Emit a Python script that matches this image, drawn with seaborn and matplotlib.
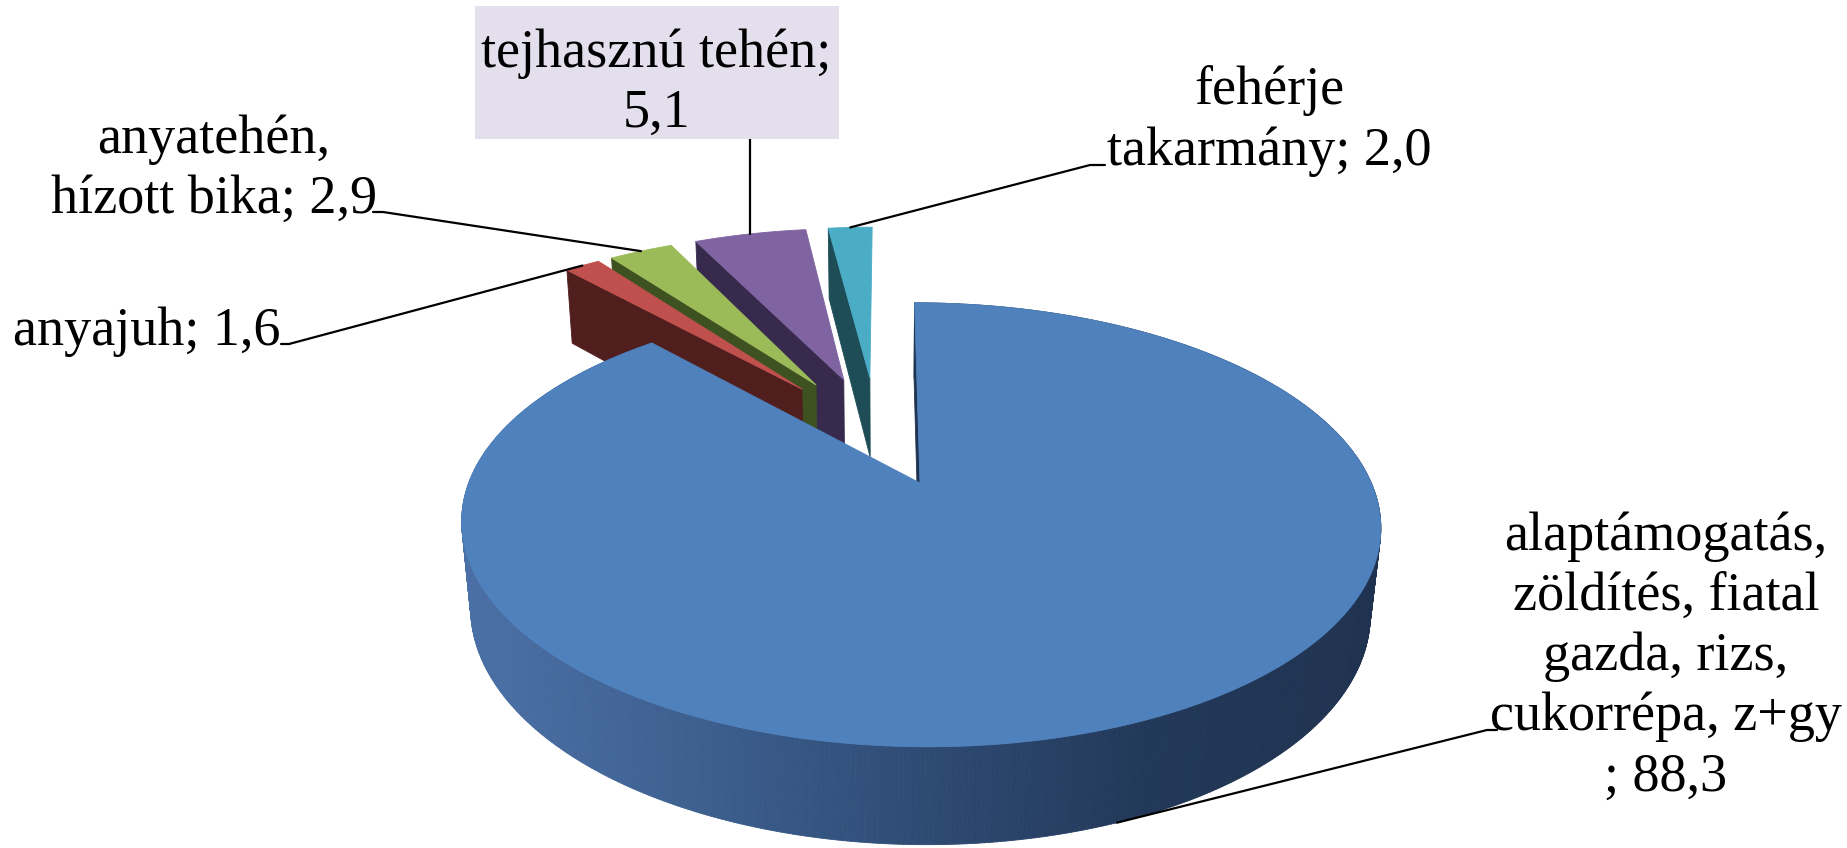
import numpy as np
import matplotlib
matplotlib.use("Agg")
import matplotlib.pyplot as plt
from matplotlib.patches import Polygon, Rectangle
import seaborn as sns


# data: slices clockwise from 12 o'clock
NAMES = [
    "alaptámogatás,\nzöldítés, fiatal\ngazda, rizs,\ncukorrépa, z+gy",
    "anyajuh",
    "anyatehén,\nhízott bika",
    "tejhasznú tehén",
    "fehérje\ntakarmány",
]
VALUES = [88.3, 1.6, 2.9, 5.1, 2.0]
SEPARATORS = ["\n; ", "; ", "; ", ";\n", "; "]

# style
TOP_COLORS = ["#4F81BD", "#C0504D", "#9BBB59", "#8064A2", "#4BACC6"]
SIDE_COLORS = ["#1F3350", "#511E1E", "#3E5120", "#372A4D", "#1E4D57"]
WALL_COLORS = ["#4B70A6", "#3D6090", "#2E4B74", "#223858", "#1F3250"]
EXPLODE = [0.27, 0.29, 0.29, 0.29, 0.29]

# camera for the 3d look (pixel units)
PHI = np.radians(26.93)
DIST = 4.96
FOCAL = 2137
DEPTH = 0.219
CAM_X = 0.02
TIP_PX = (920, 483)

# label placement (pixels) and where the leader line stops
LABEL_POS = [(1666, 657), (147, 332), (214, 170), (656, 84), (1269, 121)]
LINE_END = [(1487, 730, 1497), (289, 344, 281), (383, 212, 373), None, (1090, 165, 1105)]
BOX = (475, 6, 364, 133)


def project(x, y, z):
    dep = DIST + y * np.cos(PHI) - z * np.sin(PHI)
    sx = FOCAL * (x - CAM_X) / dep
    sy = FOCAL * (y * np.sin(PHI) + z * np.cos(PHI)) / dep
    return sx, sy, dep


def to_px(x, y, z):
    sx, sy, dep = project(np.asarray(x, float), np.asarray(y, float), np.asarray(z, float))
    return TIP_PX[0] + sx - ORIGIN[0], TIP_PX[1] - (sy - ORIGIN[1]), dep


values = np.array(VALUES)
cum = np.concatenate([[0], np.cumsum(values)]) / values.sum()
theta_hi = np.radians(90 - 360 * cum[:-1])
theta_lo = np.radians(90 - 360 * cum[1:])
theta_mid = (theta_hi + theta_lo) / 2
offsets = [(e * np.cos(m), e * np.sin(m)) for e, m in zip(EXPLODE, theta_mid)]

ORIGIN = project(offsets[0][0], offsets[0][1], 0.0)[:2]

sns.set_theme(style="white")
plt.rcParams["font.family"] = "serif"
plt.rcParams["font.serif"] = ["Liberation Serif", "DejaVu Serif"]

fig = plt.figure(figsize=(18.47, 8.48), dpi=100)
ax = fig.add_axes([0, 0, 1, 1])
ax.set_xlim(0, 1847)
ax.set_ylim(848, 0)
ax.axis("off")


def add_poly(xs, ys, color, z):
    ax.add_patch(Polygon(np.column_stack([xs, ys]), closed=True, fc=color, ec=color,
                         lw=0.6, zorder=z, joinstyle="round"))


def top_face(i, n=200):
    ox, oy = offsets[i]
    t = np.linspace(theta_lo[i], theta_hi[i], n)
    xs = np.concatenate([[ox], ox + np.cos(t)])
    ys = np.concatenate([[oy], oy + np.sin(t)])
    px, py, _ = to_px(xs, ys, np.zeros_like(xs))
    return px, py


def cut_face(i):
    ox, oy = offsets[i]
    t = theta_hi[i]
    xs = np.array([ox, ox + np.cos(t), ox + np.cos(t), ox])
    ys = np.array([oy, oy + np.sin(t), oy + np.sin(t), oy])
    zs = np.array([0, 0, -DEPTH, -DEPTH])
    px, py, _ = to_px(xs, ys, zs)
    return px, py


# small slices, back right to front left
for i in range(len(VALUES) - 1, 0, -1):
    add_poly(*cut_face(i), SIDE_COLORS[i], 2 + (5 - i) * 2)
    add_poly(*top_face(i), TOP_COLORS[i], 3 + (5 - i) * 2)

# big slice: curved wall with shading, cut face, top
wall_cmap = sns.blend_palette(WALL_COLORS, n_colors=256, as_cmap=True)
ox, oy = offsets[0]
t = np.linspace(theta_lo[0], theta_hi[0], 700)
tx, ty, tdep = to_px(ox + np.cos(t), oy + np.sin(t), np.zeros_like(t))
bx, by, bdep = to_px(ox + np.cos(t), oy + np.sin(t), np.full_like(t, -DEPTH))
left, right = tx.min(), tx.max()
quads = []
for k in range(len(t) - 1):
    d = (tdep[k] + tdep[k + 1]) / 2
    quads.append((d, k))
quads.sort(reverse=True)
for d, k in quads:
    frac = ((tx[k] + tx[k + 1]) / 2 - left) / (right - left)
    col = wall_cmap(np.clip(frac, 0, 1))
    add_poly([tx[k], tx[k + 1], bx[k + 1], bx[k]], [ty[k], ty[k + 1], by[k + 1], by[k]], col, 20)
add_poly(*cut_face(0), SIDE_COLORS[0], 21)
add_poly(*top_face(0, 600), TOP_COLORS[0], 22)

# labels and leader lines
ax.add_patch(Rectangle(BOX[:2], BOX[2], BOX[3], fc="#E4DFEC", ec="none", zorder=35))
texts = [f"{n}{s}{v:.1f}".replace(".", ",") for n, s, v in zip(NAMES, SEPARATORS, VALUES)]
for i, txt in enumerate(texts):
    lx, ly = LABEL_POS[i]
    ax.text(lx, ly, txt, ha="center", va="center", fontsize=39, color="black",
            linespacing=1.25, zorder=40)

    ox, oy = offsets[i]
    m = theta_mid[i]
    if i == 0:
        ax_, ay_, _ = to_px(ox + np.cos(m), oy + np.sin(m), -DEPTH)
    else:
        ax_, ay_, _ = to_px(ox + np.cos(m), oy + np.sin(m), 0.0)
    ax_, ay_ = float(ax_), float(ay_)
    if LINE_END[i] is None:
        ax.plot([ax_, ax_], [ay_, BOX[1] + BOX[3]], color="black", lw=1.6, zorder=30)
    else:
        ex, ey, hx = LINE_END[i]
        ax.plot([ax_, ex, hx], [ay_, ey, ey], color="black", lw=1.6, zorder=30)

fig.savefig("out.png", dpi=100, facecolor="white")
